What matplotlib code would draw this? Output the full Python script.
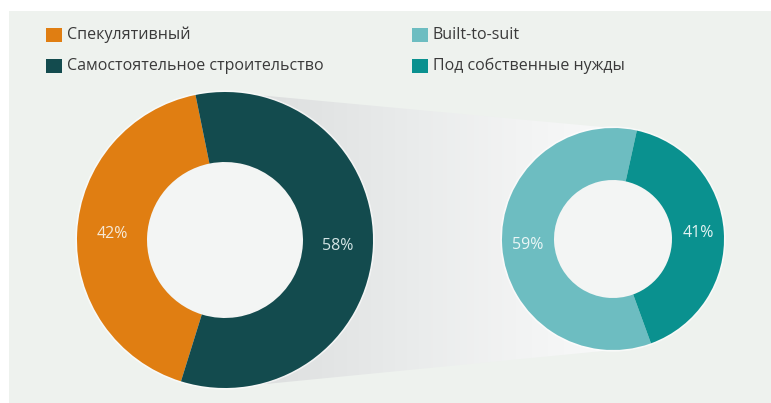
import matplotlib.pyplot as plt
import numpy as np
from matplotlib.patches import Rectangle, Polygon, Circle
from matplotlib.colors import LinearSegmentedColormap

plt.rcParams['font.family'] = ['Open Sans', 'DejaVu Sans']

# left ring: how warehouses were built
left_labels = ['Спекулятивный', 'Самостоятельное строительство']
left_values = [42, 58]
left_colors = ['#E07E12', '#134B4E']

# right ring: split of self-built space
right_labels = ['Built-to-suit', 'Под собственные нужды']
right_values = [59, 41]
right_colors = ['#6DBDC1', '#0A918F']

W, H = 771, 403
BG = '#EEF2EE'
HOLE = '#F3F5F4'

fig = plt.figure(figsize=(W / 100, H / 100), dpi=100)
fig.patch.set_facecolor('white')
ax = fig.add_axes([0, 0, 1, 1])


def py(y):
    # pixel row -> data y (y axis points up)
    return H - y


# panel background with white margin on top/left
ax.add_patch(Rectangle((9, 0), W - 9, H - 11, facecolor=BG, edgecolor='none', zorder=0))

lc, lr, lw = (225, py(240)), 148, 70
rc, rr, rw = (613, py(239)), 111, 52

# grey "tube" shadow joining the two rings
shadow = Polygon([(lc[0], lc[1] + lr), (rc[0], rc[1] + rr),
                  (rc[0], rc[1] - rr), (lc[0], lc[1] - lr)],
                 closed=True, facecolor='none', edgecolor='none', zorder=1)
ax.add_patch(shadow)
grad = np.linspace(0, 1, 256).reshape(1, -1)
cmap = LinearSegmentedColormap.from_list(
    'shade', ['#DADCDC', '#E2E4E4', '#EAECEC', '#F2F3F3', '#F8F9F9'])
img = ax.imshow(grad, cmap=cmap, extent=(lc[0], rc[0], rc[1] - lr, lc[1] + lr),
                aspect='auto', zorder=1, interpolation='bicubic')
img.set_clip_path(shadow)


def pct_label(p):
    return f'{round(p)}%'


for center, radius, width, values, colors, start, txt in [
        (lc, lr, lw, left_values, left_colors, 101.5, ['#F6E9D6', '#D3E4E4']),
        (rc, rr, rw, right_values, right_colors, 77.6, ['#EAF6F6', '#E3F3F2'])]:
    wedges, _, autotexts = ax.pie(
        values, colors=colors, startangle=start, center=center, radius=radius,
        autopct=pct_label, pctdistance=1 - width / radius / 2, frame=True,
        wedgeprops=dict(width=width, edgecolor='none', zorder=3),
        textprops=dict(fontsize=11.5, zorder=4))
    for t, c in zip(autotexts, txt):
        t.set_color(c)
    ax.add_patch(Circle(center, radius + 0.8, facecolor='none',
                        edgecolor='white', lw=1.2, alpha=0.6, zorder=2))
    ax.add_patch(Circle(center, radius - width, facecolor=HOLE,
                        edgecolor='none', zorder=2))

# legend squares and captions
for col_x, labels, colors in [(46, left_labels, left_colors),
                              (412, right_labels, right_colors)]:
    for i, (lab, c) in enumerate(zip(labels, colors)):
        yc = 35 + i * 31
        ax.add_patch(Rectangle((col_x, py(yc + 7)), 16, 14, facecolor=c,
                               edgecolor='none', zorder=5))
        ax.text(col_x + 21, py(yc), lab, fontsize=11.5, color='#3A3A3A',
                va='center', ha='left', zorder=5)

ax.set_xlim(0, W)
ax.set_ylim(0, H)
ax.set_aspect('auto')
ax.axis('off')

fig.savefig('out.png', dpi=100, facecolor=fig.get_facecolor())
